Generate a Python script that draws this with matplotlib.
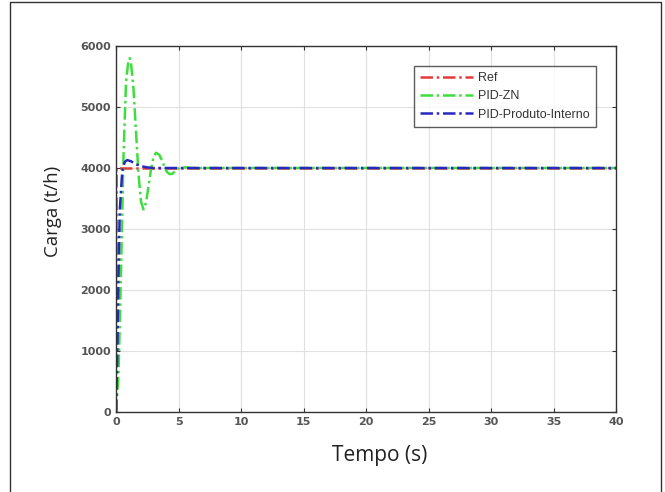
import matplotlib.pyplot as plt
from matplotlib.patches import Rectangle

# step responses read per controller (time in s, load in t/h)
t_ref = [0, 0, 40]
y_ref = [0, 4000, 4000]

t_zn = [0, 0.2, 0.4, 0.6, 0.8, 1.0, 1.1, 1.2, 1.4, 1.6, 1.8, 2.0, 2.2, 2.4,
        2.6, 2.8, 3.0, 3.2, 3.45, 3.7, 3.9, 4.1, 4.3, 4.5, 4.7, 4.9, 5.2,
        5.6, 6.0, 40]
y_zn = [0, 600, 2300, 4200, 5400, 5780, 5800, 5720, 5300, 4600, 3900, 3450,
        3320, 3430, 3700, 3980, 4180, 4250, 4220, 4120, 4000, 3930, 3900,
        3905, 3940, 3980, 4010, 4010, 4000, 4000]

t_pi = [0, 0.1, 0.2, 0.3, 0.5, 0.7, 0.9, 1.2, 1.5, 2.0, 2.5, 3.0, 40]
y_pi = [0, 900, 2200, 3300, 3950, 4100, 4130, 4110, 4070, 4030, 4010, 4000,
        4000]

x_ticks = [0, 5, 10, 15, 20, 25, 30, 35, 40]
y_ticks = [0, 1000, 2000, 3000, 4000, 5000, 6000]

fig = plt.figure(figsize=(6.65, 4.92), dpi=100)
ax = fig.add_axes([116 / 665, 80 / 492, 500 / 665, 366 / 492])

dash = (0, (5, 1.5, 1, 1.5))
ax.plot(t_ref, y_ref, color='#e23a3a', lw=1.8, ls=dash, label='Ref')
ax.plot(t_zn, y_zn, color='#3ede3e', lw=1.8, ls=dash, label='PID-ZN')
ax.plot(t_pi, y_pi, color='#2828c0', lw=1.8, ls=dash,
        label='PID-Produto-Interno')

ax.set_xlim(0, 40)
ax.set_ylim(0, 6000)
ax.set_xticks(x_ticks)
ax.set_yticks(y_ticks)
ax.grid(True, color='#e0e0e0', lw=0.8)
ax.tick_params(direction='in', top=True, right=True, length=3,
               labelsize=8, labelcolor='#555555', color='#333333')
for lab in ax.get_xticklabels() + ax.get_yticklabels():
    lab.set_fontweight('bold')
for sp in ax.spines.values():
    sp.set_color('#333333')
    sp.set_linewidth(1.0)

fig.text(380 / 665, 1 - 455 / 492, 'Tempo (s)', fontsize=15,
         family='Open Sans', color='#222222', ha='center', va='center')
fig.text(53 / 665, 1 - 211 / 492, 'Carga (t/h)', fontsize=13.4,
         family='Open Sans', color='#222222', ha='center', va='center',
         rotation=90)

leg = ax.legend(loc='upper right', bbox_to_anchor=(0.972, 0.963),
                prop={'family': 'Liberation Sans', 'size': 9},
                frameon=True, fancybox=False, edgecolor='#333333',
                handlelength=4.2, handletextpad=0.4, borderpad=0.5,
                labelspacing=0.5)
leg.get_frame().set_linewidth(1.0)
for txt in leg.get_texts():
    txt.set_color('#333333')

# thin frame around the whole figure
fig.patches.append(Rectangle((10 / 665, -0.01), 651 / 665, 1 - 2 / 492 + 0.01,
                             transform=fig.transFigure, fill=False,
                             edgecolor='#333333', lw=1.0))

fig.savefig('out.png', dpi=100)
